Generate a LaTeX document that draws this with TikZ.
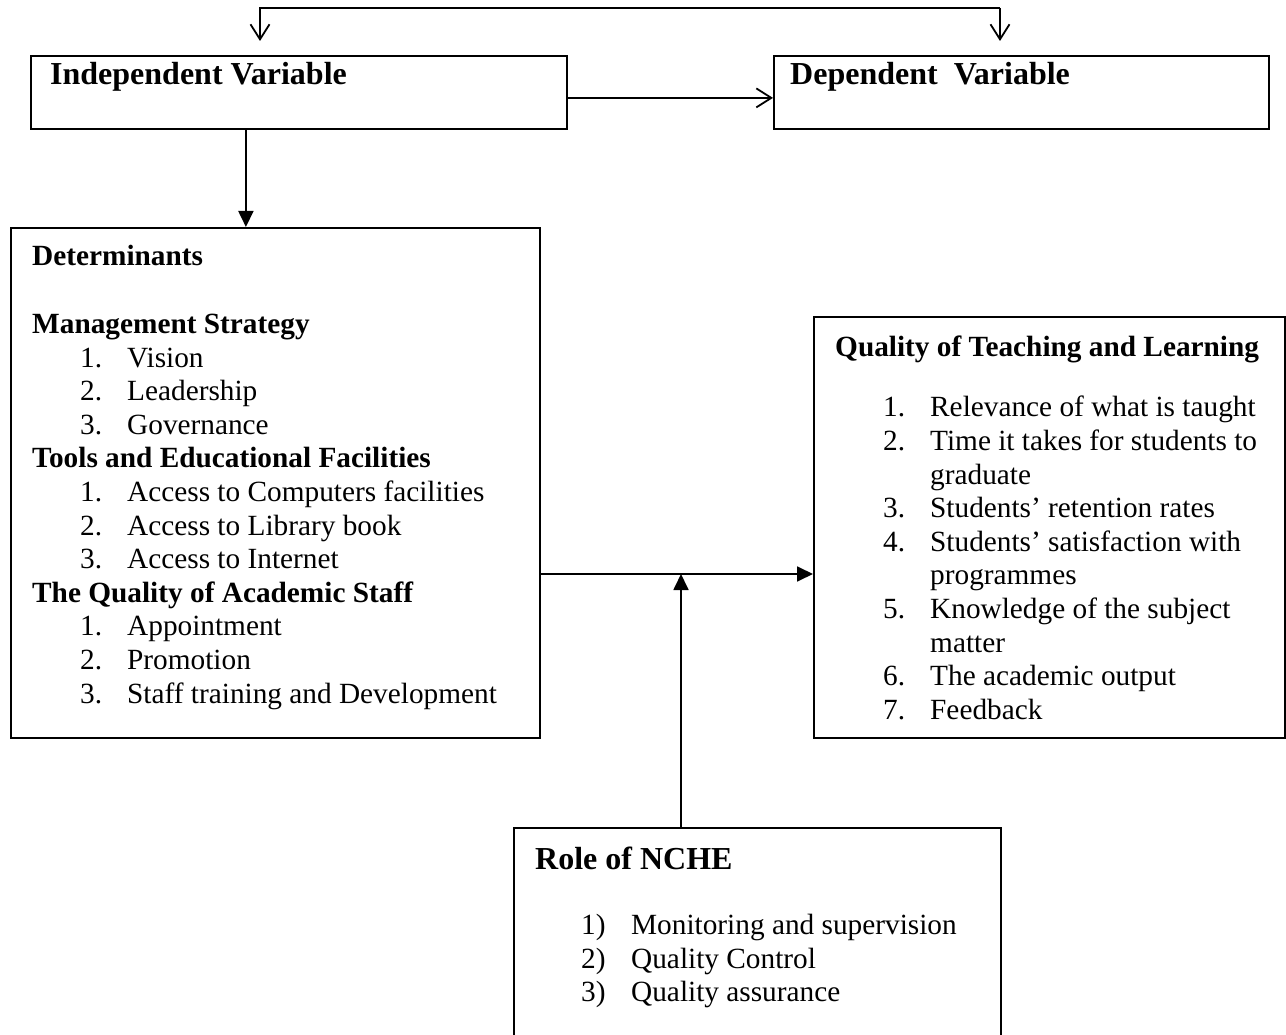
\documentclass[tikz,border=0pt]{standalone}
\usepackage{fontspec}
\setmainfont{Liberation Serif}
\usetikzlibrary{arrows.meta}
\usetikzlibrary{positioning}
\tikzset{box/.style = {draw, line width = 1.8pt, inner sep = 0, anchor = north west}}
\tikzset{boxtext/.style = {inner sep = 0, anchor = north west, align = left, font = \fontsize{29.3}{33.6}\selectfont}}
\tikzset{openhead/.style = {line width = 1.8pt, -{Straight Barb[length = 15pt, width = 19pt, line width = 1.8pt]}}}
\tikzset{fillhead/.style = {line width = 1.8pt, -{Triangle[length = 16pt, width = 15pt]}}}
\newcommand{\numitem}[3]{\hspace*{#1pt}\makebox[#2pt][l]{#3}}
\newcommand{\headtext}[1]{{\fontsize{32}{33.6}\selectfont\bfseries #1}}

\begin{document}
\begin{tikzpicture}[x = 1pt, y = -1pt]
    \useasboundingbox [fill = white] (0, 0) rectangle (1286, 1035);
    % boxes
    \node [box, minimum width = 536, minimum height = 73] (indepBox) at (30, 55) {};
    \node [box, minimum width = 495, minimum height = 73] (depBox) at (773, 55) {};
    \node [box, minimum width = 529, minimum height = 510] (detBox) at (10, 227) {};
    \node [box, minimum width = 471, minimum height = 421] (qualBox) at (813, 316) {};
    \node [box, minimum width = 487, minimum height = 260] (ncheBox) at (513, 827) {};
    % texts
    \node [boxtext] (indepText) at (50, 62) {\headtext{Independent Variable}};
    \node [boxtext] (depText) at (790, 62) {\headtext{Dependent\ \ Variable}};
    \node [boxtext] (detText) at (32, 245) {\textbf{Determinants}\\[34.4pt]
      \textbf{Management Strategy}\\
      \numitem{48}{47}{1.}Vision\\
      \numitem{48}{47}{2.}Leadership\\
      \numitem{48}{47}{3.}Governance\\
      \textbf{Tools and Educational Facilities}\\
      \numitem{48}{47}{1.}Access to Computers facilities\\
      \numitem{48}{47}{2.}Access to Library book\\
      \numitem{48}{47}{3.}Access to Internet\\
      \textbf{The Quality of Academic Staff}\\
      \numitem{48}{47}{1.}Appointment\\
      \numitem{48}{47}{2.}Promotion\\
      \numitem{48}{47}{3.}Staff training and Development};
    \node [boxtext] (qualText) at (835, 336) {\textbf{Quality of Teaching and Learning}\\[26.4pt]
      \numitem{48}{47}{1.}Relevance of what is taught\\
      \numitem{48}{47}{2.}Time it takes for students to\\
      \numitem{95}{0}{}graduate\\
      \numitem{48}{47}{3.}Students’ retention rates\\
      \numitem{48}{47}{4.}Students’ satisfaction with\\
      \numitem{95}{0}{}programmes\\
      \numitem{48}{47}{5.}Knowledge of the subject\\
      \numitem{95}{0}{}matter\\
      \numitem{48}{47}{6.}The academic output\\
      \numitem{48}{47}{7.}Feedback};
    \node [boxtext] (ncheText) at (535, 847) {\headtext{Role of NCHE}\\[31.4pt]
      \numitem{46}{50}{1)}Monitoring and supervision\\
      \numitem{46}{50}{2)}Quality Control\\
      \numitem{46}{50}{3)}Quality assurance};
    % connectors
    \coordinate (topL) at (260, 8);
    \coordinate (topR) at (1000, 8);
    \coordinate (tipL) at (260, 41);
    \coordinate (tipR) at (1000, 41);
    \coordinate (junc) at (681, 574);
    \draw [openhead] (topR) -- (topL) -- (tipL);
    \draw [openhead] (topR) -- (tipR);
    \draw [openhead] ([yshift = -5.5pt] indepBox.east) -- ([yshift = -5.5pt] depBox.west);
    \draw [fillhead] ([xshift = -53pt] indepBox.south) -- ([xshift = -53pt] indepBox.south |- detBox.north);
    \draw [fillhead] (detBox.east |- junc) -- (qualBox.west |- junc);
    \draw [fillhead] (ncheBox.north -| junc) -- (junc);
\end{tikzpicture}
\end{document}
